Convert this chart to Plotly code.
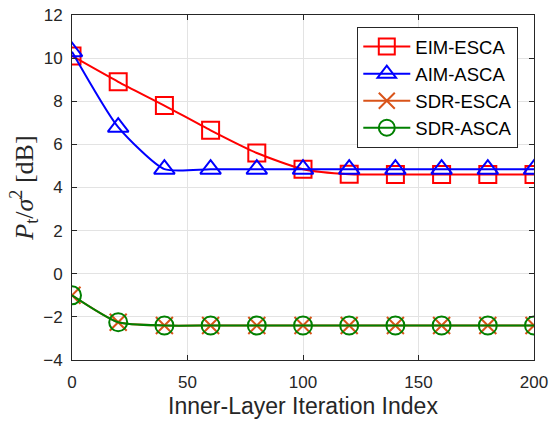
import plotly.graph_objects as go

# Inner-layer iteration index (sampled every 20 iterations)
iterations = [0, 20, 40, 60, 80, 100, 120, 140, 160, 180, 200]

# Transmit-power-to-noise ratio P_t/sigma^2 in dB
eim_esca = [10.1, 8.9, 7.8, 6.65, 5.6, 4.85, 4.62, 4.6, 4.6, 4.6, 4.6]
aim_asca = [10.3, 6.8, 4.85, 4.85, 4.85, 4.85, 4.85, 4.85, 4.85, 4.85, 4.85]
sdr_esca = [-1.0, -2.25, -2.4, -2.4, -2.4, -2.4, -2.4, -2.4, -2.4, -2.4, -2.4]
sdr_asca = [-1.0, -2.25, -2.4, -2.4, -2.4, -2.4, -2.4, -2.4, -2.4, -2.4, -2.4]

series = [
    ("EIM-ESCA", eim_esca, "#FF0000", "square-open", 17),
    ("AIM-ASCA", aim_asca, "#0000FF", "triangle-up-open", 18),
    ("SDR-ESCA", sdr_esca, "#D95319", "x-thin-open", 17),
    ("SDR-ASCA", sdr_asca, "#008000", "circle-open", 18),
]

fig = go.Figure()
for name, vals, color, symbol, size in series:
    fig.add_trace(go.Scatter(
        x=iterations, y=vals, name=name, mode="lines+markers",
        line=dict(color=color, width=2, shape="spline", smoothing=0.6),
        marker=dict(symbol=symbol, size=size, color=color,
                    line=dict(color=color, width=2)),
    ))

tick_font = dict(family="Liberation Sans, Arial, sans-serif", size=17, color="#262626")
axis_common = dict(
    showline=True, linecolor="#262626", linewidth=1, mirror="ticks",
    ticks="inside", ticklen=5, tickcolor="#262626",
    showgrid=True, gridcolor="#E3E3E3", gridwidth=1, zeroline=False,
    tickfont=tick_font, automargin=False,
)

fig.update_xaxes(range=[0, 200], tickvals=[0, 50, 100, 150, 200], ticklabelstandoff=7,
                 title=dict(text="Inner-Layer Iteration Index", standoff=6,
                            font=dict(family="Liberation Sans, Arial, sans-serif",
                                      size=23, color="#262626")),
                 **axis_common)
fig.update_yaxes(range=[-4, 12], dtick=2, ticklabelstandoff=5,
                 title=dict(text="<i>P</i><sub>t</sub>/<i>σ</i><sup>2</sup> [dB]", standoff=2,
                            font=dict(family="Liberation Serif, DejaVu Serif, serif",
                                      size=26, color="#262626")),
                 **axis_common)

fig.update_layout(
    width=551, height=422,
    margin=dict(l=72, r=17, t=15, b=62),
    paper_bgcolor="white", plot_bgcolor="white",
    legend=dict(x=0.966, y=0.965, xanchor="right", yanchor="top",
                bgcolor="white", bordercolor="#262626", borderwidth=1,
                font=dict(family="Liberation Sans, Arial, sans-serif", size=18.5, color="black"),
                tracegroupgap=0, itemwidth=47),
    showlegend=True,
)

fig.write_html("out.html")
